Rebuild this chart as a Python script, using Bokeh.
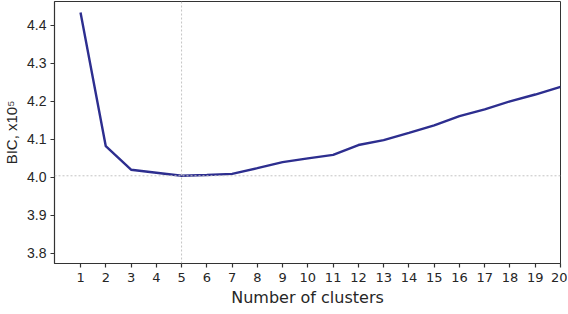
import numpy as np
from bokeh.plotting import figure
from bokeh.models import FixedTicker, Span, Range1d
from bokeh.embed import file_html
from bokeh.resources import INLINE

clusters = list(range(1, 21))
bic = [4.434, 4.082, 4.020, 4.012, 4.004, 4.006, 4.009, 4.024, 4.040, 4.050,
       4.059, 4.085, 4.098, 4.117, 4.137, 4.161, 4.179, 4.200, 4.218, 4.238]
y_ticks = [3.8, 3.9, 4.0, 4.1, 4.2, 4.3, 4.4]

best_i = int(np.argmin(bic))

p = figure(frame_width=506, frame_height=262, output_backend="svg", toolbar_location=None,
           x_range=Range1d(-0.03, 20), y_range=Range1d(3.773, 4.463),
           min_border_top=1, min_border_right=7, min_border_left=47, min_border_bottom=0)

p.line(clusters, bic, line_color="#2d2e8f", line_width=2.4)

p.add_layout(Span(location=bic[best_i], dimension="width", line_color="#c4c4c4",
                  line_dash="2 2", line_width=1))
p.add_layout(Span(location=clusters[best_i], dimension="height", line_color="#c4c4c4",
                  line_dash="2 2", line_width=1))

p.xgrid.visible = False
p.ygrid.visible = False
p.outline_line_color = "#333333"
p.outline_line_width = 1

p.xaxis.ticker = FixedTicker(ticks=clusters)
p.yaxis.ticker = FixedTicker(ticks=y_ticks)
p.yaxis.major_label_overrides = {t: f"{t:.1f}" for t in y_ticks}

for ax in (p.xaxis[0], p.yaxis[0]):
    ax.axis_line_color = "#333333"
    ax.axis_line_width = 1.2
    ax.major_tick_line_color = "#333333"
    ax.major_tick_line_width = 1.2
    ax.major_tick_out = 4
    ax.major_tick_in = 0
    ax.minor_tick_line_color = None
    ax.major_label_text_color = "#262626"
    ax.axis_label_text_color = "#262626"
    ax.axis_label_text_font_style = "normal"

p.xaxis.axis_label = "Number of clusters"
p.xaxis.axis_label_text_font = "DejaVu Sans"
p.xaxis.axis_label_text_font_size = "16px"
p.xaxis.axis_label_standoff = 3
p.xaxis.major_label_text_font = "DejaVu Sans"
p.xaxis.major_label_text_font_size = "13px"
p.xaxis.major_label_standoff = 5

p.yaxis.axis_label = "BIC, x10⁵"
p.yaxis.axis_label_text_font = "Liberation Sans"
p.yaxis.axis_label_text_font_size = "15px"
p.yaxis.axis_label_standoff = 4
p.yaxis.major_label_text_font = "Liberation Sans"
p.yaxis.major_label_text_font_size = "14px"
p.yaxis.major_label_standoff = 4

open("out.html", "w").write(file_html(p, INLINE))
